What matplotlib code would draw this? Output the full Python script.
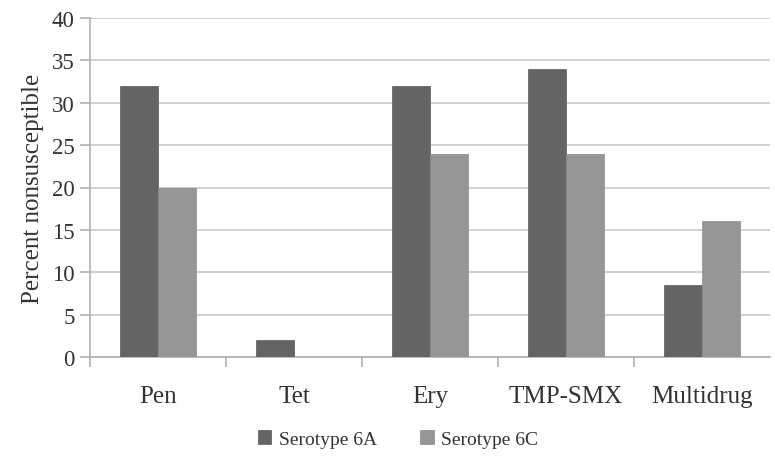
import matplotlib
matplotlib.use("Agg")
import matplotlib.pyplot as plt
import numpy as np

categories = ["Pen", "Tet", "Ery", "TMP-SMX", "Multidrug"]
sero_6a = [32, 2, 32, 34, 8.5]
sero_6c = [20, 0, 24, 24, 16]
yticks = [0, 5, 10, 15, 20, 25, 30, 35, 40]

plt.rcParams['font.family'] = ['Liberation Serif', 'DejaVu Serif']

fig = plt.figure(figsize=(7.75, 4.6), dpi=100)
ax = fig.add_axes([90/775, (460-358)/460, (770-90)/775, (358-19)/460])

x = np.arange(len(categories))
w = 0.28
c_a = '#646464'
c_c = '#969696'
ax.bar(x - w/2, sero_6a, w, color=c_a, edgecolor='#5a5a5a', linewidth=0.5, label='Serotype 6A', zorder=3)
ax.bar(x + w/2, sero_6c, w, color=c_c, edgecolor='#8c8c8c', linewidth=0.5, label='Serotype 6C', zorder=3)

ax.set_xlim(-0.5, len(categories) - 0.5)
ax.set_ylim(0, 40)
ax.set_yticks(yticks)
ax.yaxis.grid(True, color='#c8c8c8', linewidth=1.2, zorder=0)
ax.set_axisbelow(True)

for s in ['top', 'right']:
    ax.spines[s].set_visible(False)
ax.spines['left'].set_color('#b0b0b0')
ax.spines['bottom'].set_color('#b0b0b0')
ax.spines['left'].set_linewidth(1.2)
ax.spines['bottom'].set_linewidth(1.2)

ax.set_xticks(x)
ax.set_xticklabels(categories, fontsize=18, color='#333333')
ax.tick_params(axis='x', length=0, pad=20)
ax.set_xticks(np.arange(-0.5, len(categories) - 0.5, 1.0), minor=True)
ax.tick_params(axis='x', which='minor', length=7, color='#b0b0b0', width=1.2)
ax.tick_params(axis='y', length=7, color='#b0b0b0', width=1.2, labelsize=16.5, labelcolor='#333333', pad=4)

ax.set_ylabel('Percent nonsusceptible', fontsize=18, color='#333333', labelpad=6)

ax.legend(loc='upper center', bbox_to_anchor=(0.453, -0.165), ncol=2, frameon=False,
          fontsize=14, handlelength=0.7, handleheight=0.7, columnspacing=2.2, handletextpad=0.4,
          labelcolor='#333333')

fig.savefig('out.png', dpi=100)
